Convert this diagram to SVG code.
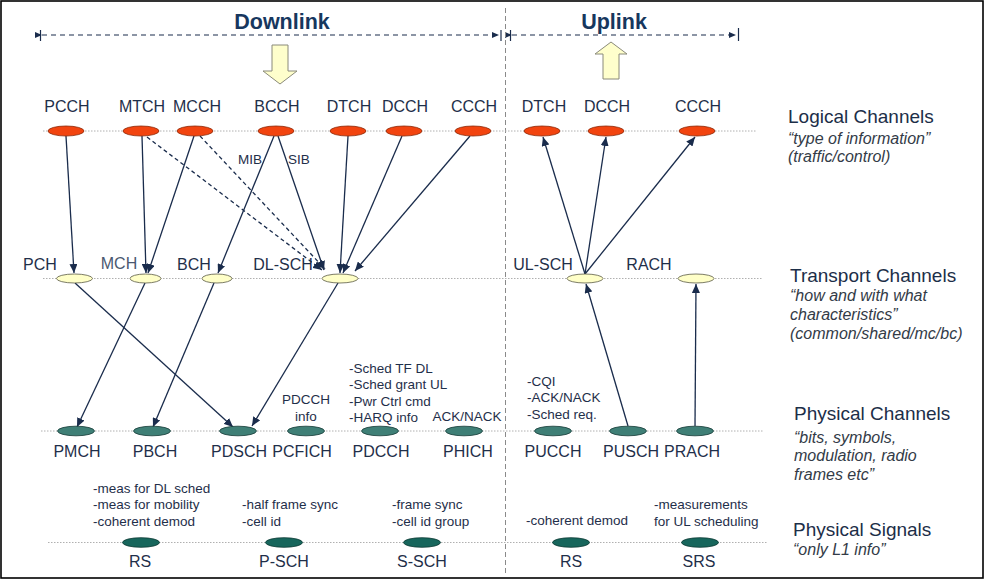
<svg xmlns="http://www.w3.org/2000/svg" width="986" height="581" viewBox="0 0 986 581">
<style>
text{font-family:"Liberation Sans",Arial,sans-serif;fill:#1f2f4a}
.t{font-size:21.5px;font-weight:bold;fill:#17375e;text-anchor:middle}
.ch{font-size:16px;text-anchor:middle}
.an{font-size:13.5px}
.anm{font-size:13.5px;text-anchor:middle}
.h{font-size:19px;fill:#1c2e48}
.s{font-size:16px;font-style:italic;fill:#333b47}
.row{stroke:#b0b0b0;stroke-width:1;stroke-dasharray:1.5 1.5;fill:none}
.lg{fill:#f2440f;stroke:#8a2a0a;stroke-width:0.8}
.tr{fill:#ffffc8;stroke:#5a5a48;stroke-width:0.8}
.ph{fill:#3f7f76;stroke:#183c38;stroke-width:0.8}
.sg{fill:#17665c;stroke:#0c3a34;stroke-width:0.8}
.c{stroke:#1a2c4c;stroke-width:1.3;fill:none;marker-end:url(#ah)}
.cd{stroke:#1a2c4c;stroke-width:1.3;fill:none;stroke-dasharray:4 3;marker-end:url(#ah)}
.dim{stroke:#1a2c4c;stroke-width:1.2;fill:none;stroke-dasharray:5 4}
.tk{stroke:#1a2c4c;stroke-width:1.2}
.blk{fill:#ffffcc;stroke:#8a8a7a;stroke-width:1}
</style>
<defs>
<marker id="ah" markerUnits="userSpaceOnUse" markerWidth="10" markerHeight="8" refX="9" refY="4" orient="auto"><path d="M0,0 L9,4 L0,8 z" fill="#1a2c4c"/></marker>
<marker id="dh" markerUnits="userSpaceOnUse" markerWidth="8" markerHeight="6" refX="7" refY="3" orient="auto"><path d="M0,0 L7,3 L0,6 z" fill="#1a2c4c"/></marker>
</defs>
<rect x="1" y="1" width="982" height="577" fill="#ffffff" stroke="#000000" stroke-width="1.6"/>

<g id="header">
<text class="t" x="282" y="29">Downlink</text>
<text class="t" x="614" y="29">Uplink</text>
<line class="dim" x1="42" y1="35" x2="499" y2="35" marker-start="url(#dh)" marker-end="url(#dh)"/>
<line class="tk" x1="40.5" y1="30" x2="40.5" y2="41"/>
<line class="tk" x1="501" y1="30" x2="501" y2="41"/>
<line class="dim" x1="512" y1="35" x2="736" y2="35" marker-start="url(#dh)" marker-end="url(#dh)"/>
<line class="tk" x1="510.5" y1="30" x2="510.5" y2="41"/>
<line class="tk" x1="738.5" y1="28" x2="738.5" y2="41"/>
<path class="blk" d="M272,45 H288 V71 H297 L280,84 L263,71 H272 Z"/>
<path class="blk" d="M603,79 H619 V54 H627 L611,42 L595,54 H603 Z"/>
<line x1="505.5" y1="8" x2="505.5" y2="576" stroke="#8a8a8a" stroke-width="1" stroke-dasharray="5 3"/>
</g>

<g id="rows">
<line class="row" x1="43" y1="131" x2="757" y2="131"/>
<line class="row" x1="43" y1="278.5" x2="762" y2="278.5"/>
<line class="row" x1="41" y1="431" x2="764" y2="431"/>
<line class="row" x1="48" y1="542.5" x2="767" y2="542.5"/>
</g>

<g id="connectors">
<path class="c" d="M66,136 L74,273"/>
<path class="c" d="M142,136 L146,273"/>
<path class="c" d="M194,136 L148,273"/>
<path class="cd" d="M147,137 L322,270"/>
<path class="cd" d="M200,136 L325,269"/>
<path class="c" d="M274,136 L218,273"/>
<path class="c" d="M278,136 L324,270"/>
<path class="c" d="M348,136 L340,273"/>
<path class="c" d="M402,136 L343,273"/>
<path class="c" d="M470,136 L355,271"/>
<path class="c" d="M75,283 L233,427"/>
<path class="c" d="M145,283 L77,427"/>
<path class="c" d="M214,283 L153,427"/>
<path class="c" d="M338,283 L252,426"/>
<path class="c" d="M585,274 L543,137"/>
<path class="c" d="M585,274 L606,137"/>
<path class="c" d="M585,274 L695,137"/>
<path class="c" d="M628,426 L586,284"/>
<path class="c" d="M695,426 L696,284"/>
</g>

<g id="logical">
<g id="n-pcch"><ellipse class="lg" cx="66" cy="131" rx="18" ry="5"/><text class="ch" x="67" y="112">PCCH</text></g>
<g id="n-mtch"><ellipse class="lg" cx="141" cy="131" rx="18" ry="5"/><text class="ch" x="142" y="112">MTCH</text></g>
<g id="n-mcch"><ellipse class="lg" cx="195" cy="131" rx="18" ry="5"/><text class="ch" x="197" y="112">MCCH</text></g>
<g id="n-bcch"><ellipse class="lg" cx="276" cy="131" rx="18" ry="5"/><text class="ch" x="277" y="112">BCCH</text></g>
<g id="n-dtch-dl"><ellipse class="lg" cx="348" cy="131" rx="18" ry="5"/><text class="ch" x="349" y="112">DTCH</text></g>
<g id="n-dcch-dl"><ellipse class="lg" cx="404" cy="131" rx="18" ry="5"/><text class="ch" x="405" y="112">DCCH</text></g>
<g id="n-ccch-dl"><ellipse class="lg" cx="473" cy="131" rx="18" ry="5"/><text class="ch" x="474" y="112">CCCH</text></g>
<g id="n-dtch-ul"><ellipse class="lg" cx="542" cy="131" rx="18" ry="5"/><text class="ch" x="544" y="112">DTCH</text></g>
<g id="n-dcch-ul"><ellipse class="lg" cx="606" cy="131" rx="18" ry="5"/><text class="ch" x="607" y="112">DCCH</text></g>
<g id="n-ccch-ul"><ellipse class="lg" cx="697" cy="131" rx="18" ry="5"/><text class="ch" x="698" y="112">CCCH</text></g>
<text class="an" x="238" y="164">MIB</text>
<text class="an" x="288" y="164">SIB</text>
</g>

<g id="transport">
<g id="n-pch"><ellipse class="tr" cx="74.5" cy="278.5" rx="18" ry="4.5"/><text class="ch" x="40" y="270">PCH</text></g>
<g id="n-mch"><ellipse class="tr" cx="145.5" cy="278.5" rx="15.5" ry="4.5"/><text class="ch" x="119" y="269" style="fill:#4a5870">MCH</text></g>
<g id="n-bch"><ellipse class="tr" cx="217" cy="278.5" rx="15" ry="4.5"/><text class="ch" x="194" y="270">BCH</text></g>
<g id="n-dlsch"><ellipse class="tr" cx="340" cy="278.5" rx="18" ry="4.5"/><text class="ch" x="283" y="270">DL-SCH</text></g>
<g id="n-ulsch"><ellipse class="tr" cx="585" cy="278.5" rx="18" ry="4.5"/><text class="ch" x="543" y="270">UL-SCH</text></g>
<g id="n-rach"><ellipse class="tr" cx="696" cy="278.5" rx="18" ry="4.5"/><text class="ch" x="649" y="270">RACH</text></g>
</g>

<g id="physical">
<g id="n-pmch"><ellipse class="ph" cx="76" cy="431" rx="18.5" ry="4.8"/><text class="ch" x="77" y="457">PMCH</text></g>
<g id="n-pbch"><ellipse class="ph" cx="152" cy="431" rx="18.5" ry="4.8"/><text class="ch" x="155" y="457">PBCH</text></g>
<g id="n-pdsch"><ellipse class="ph" cx="238" cy="431" rx="18.5" ry="4.8"/><text class="ch" x="239" y="457">PDSCH</text></g>
<g id="n-pcfich"><ellipse class="ph" cx="306" cy="431" rx="18.5" ry="4.8"/><text class="ch" x="302" y="457">PCFICH</text>
<text class="anm" x="306" y="404">PDCCH</text><text class="anm" x="306" y="421">info</text></g>
<g id="n-pdcch"><ellipse class="ph" cx="380" cy="431" rx="18.5" ry="4.8"/><text class="ch" x="381" y="457">PDCCH</text>
<text class="an" x="349" y="373">-Sched TF DL</text><text class="an" x="349" y="389">-Sched grant UL</text><text class="an" x="349" y="406">-Pwr Ctrl cmd</text><text class="an" x="349" y="422">-HARQ info</text></g>
<g id="n-phich"><ellipse class="ph" cx="464" cy="431" rx="18.5" ry="4.8"/><text class="ch" x="468" y="457">PHICH</text>
<text class="anm" x="467" y="421">ACK/NACK</text></g>
<g id="n-pucch"><ellipse class="ph" cx="553" cy="431" rx="18.5" ry="4.8"/><text class="ch" x="553" y="457">PUCCH</text>
<text class="an" x="527" y="386">-CQI</text><text class="an" x="527" y="402">-ACK/NACK</text><text class="an" x="527" y="419">-Sched req.</text></g>
<g id="n-pusch"><ellipse class="ph" cx="628" cy="431" rx="18.5" ry="4.8"/><text class="ch" x="631" y="457">PUSCH</text></g>
<g id="n-prach"><ellipse class="ph" cx="695" cy="431" rx="18.5" ry="4.8"/><text class="ch" x="692" y="457">PRACH</text></g>
</g>

<g id="signals">
<g id="n-rs-dl"><ellipse class="sg" cx="141" cy="542.5" rx="18.5" ry="4.8"/><text class="ch" x="140" y="567">RS</text>
<text class="an" x="93" y="493">-meas for DL sched</text><text class="an" x="93" y="509">-meas for mobility</text><text class="an" x="93" y="526">-coherent demod</text></g>
<g id="n-psch"><ellipse class="sg" cx="284" cy="542.5" rx="18.5" ry="4.8"/><text class="ch" x="284" y="567">P-SCH</text>
<text class="an" x="242" y="509">-half frame sync</text><text class="an" x="242" y="526">-cell id</text></g>
<g id="n-ssch"><ellipse class="sg" cx="422" cy="542.5" rx="18.5" ry="4.8"/><text class="ch" x="422" y="567">S-SCH</text>
<text class="an" x="392" y="509">-frame sync</text><text class="an" x="392" y="526">-cell id group</text></g>
<g id="n-rs-ul"><ellipse class="sg" cx="571" cy="542.5" rx="18.5" ry="4.8"/><text class="ch" x="571" y="567">RS</text>
<text class="an" x="526" y="525">-coherent demod</text></g>
<g id="n-srs"><ellipse class="sg" cx="700" cy="542.5" rx="18.5" ry="4.8"/><text class="ch" x="699" y="567">SRS</text>
<text class="an" x="654" y="509">-measurements</text><text class="an" x="654" y="526">for UL scheduling</text></g>
</g>

<g id="legend">
<text class="h" x="788" y="123">Logical Channels</text>
<text class="s" x="788" y="144">“type of information”</text>
<text class="s" x="788" y="162">(traffic/control)</text>
<text class="h" x="790" y="282">Transport Channels</text>
<text class="s" x="790" y="301">“how and with what</text>
<text class="s" x="790" y="320">characteristics”</text>
<text class="s" x="790" y="339">(common/shared/mc/bc)</text>
<text class="h" x="794" y="420">Physical Channels</text>
<text class="s" x="794" y="443">“bits, symbols,</text>
<text class="s" x="794" y="461">modulation, radio</text>
<text class="s" x="794" y="480">frames etc”</text>
<text class="h" x="793" y="536">Physical Signals</text>
<text class="s" x="793" y="555">“only L1 info”</text>
</g>
</svg>
